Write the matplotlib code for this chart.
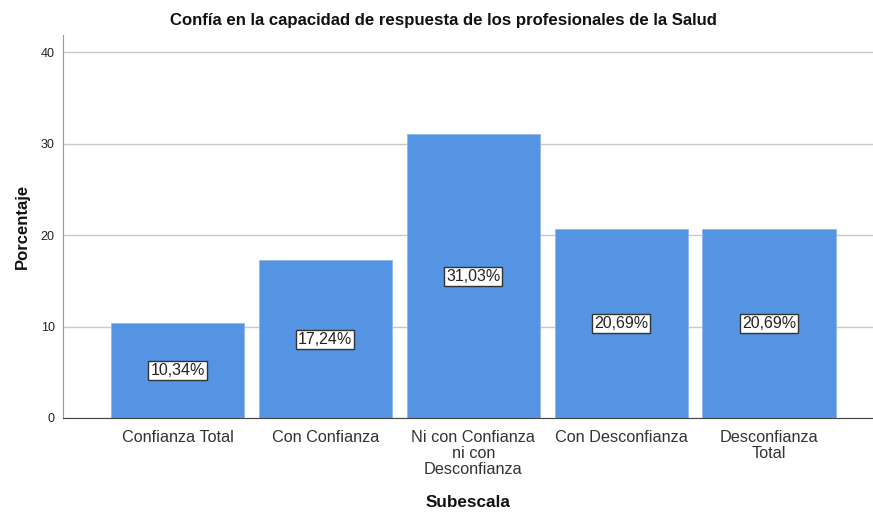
import matplotlib
matplotlib.use("Agg")
import matplotlib.pyplot as plt

categories = ["Confianza Total", "Con Confianza", "Ni con Confianza\nni con\nDesconfianza",
              "Con Desconfianza", "Desconfianza\nTotal"]
values = [10.34, 17.24, 31.03, 20.69, 20.69]
labels = ["10,34%", "17,24%", "31,03%", "20,69%", "20,69%"]
yticks = [0, 10, 20, 30, 40]

plt.rcParams['font.family'] = ['Liberation Sans', 'DejaVu Sans']

fig = plt.figure(figsize=(8.73, 5.12), dpi=100)
W, H = 873, 512
ax = fig.add_axes([63 / W, 1 - 418 / H, (873 - 63) / W, (418 - 35) / H])

x = list(range(len(categories)))
ax.bar(x, values, width=0.9, color='#5494E3', edgecolor='#8DB8EE', linewidth=0.6, zorder=2)

for xi, v, lab in zip(x, values, labels):
    ax.text(xi, v / 2, lab, ha='center', va='center', fontsize=11.5, color='#222222', zorder=3,
            bbox=dict(boxstyle='square,pad=0.12', facecolor='white', edgecolor='#333333', linewidth=1))

ax.set_xlim(-0.774, 4.703)
ax.set_ylim(0, 41.9)
ax.set_yticks(yticks)
ax.set_yticklabels([str(t) for t in yticks], fontsize=9, color='#222222')
ax.set_xticks(x)
ax.set_xticklabels(categories, fontsize=11.7, color='#333333', linespacing=1.08)
ax.tick_params(axis='both', length=0)
ax.tick_params(axis='x', pad=9)
ax.tick_params(axis='y', pad=6)

ax.yaxis.grid(True, color='#c8c8c8', linewidth=1, zorder=0)
ax.set_axisbelow(True)
for s in ['top', 'right']:
    ax.spines[s].set_visible(False)
ax.spines['left'].set_color('#999999')
ax.spines['bottom'].set_color('#444444')

ax.set_ylabel("Porcentaje", fontsize=12, fontweight='bold', color='#111111', labelpad=8)
ax.set_xlabel("Subescala", fontsize=12.3, fontweight='bold', color='#111111', labelpad=13)
fig.text(443 / W, 1 - 20 / H, "Confía en la capacidad de respuesta de los profesionales de la Salud",
         ha='center', va='center', fontsize=12.1, fontweight='bold', color='#111111')

fig.savefig("out.png", dpi=100)
